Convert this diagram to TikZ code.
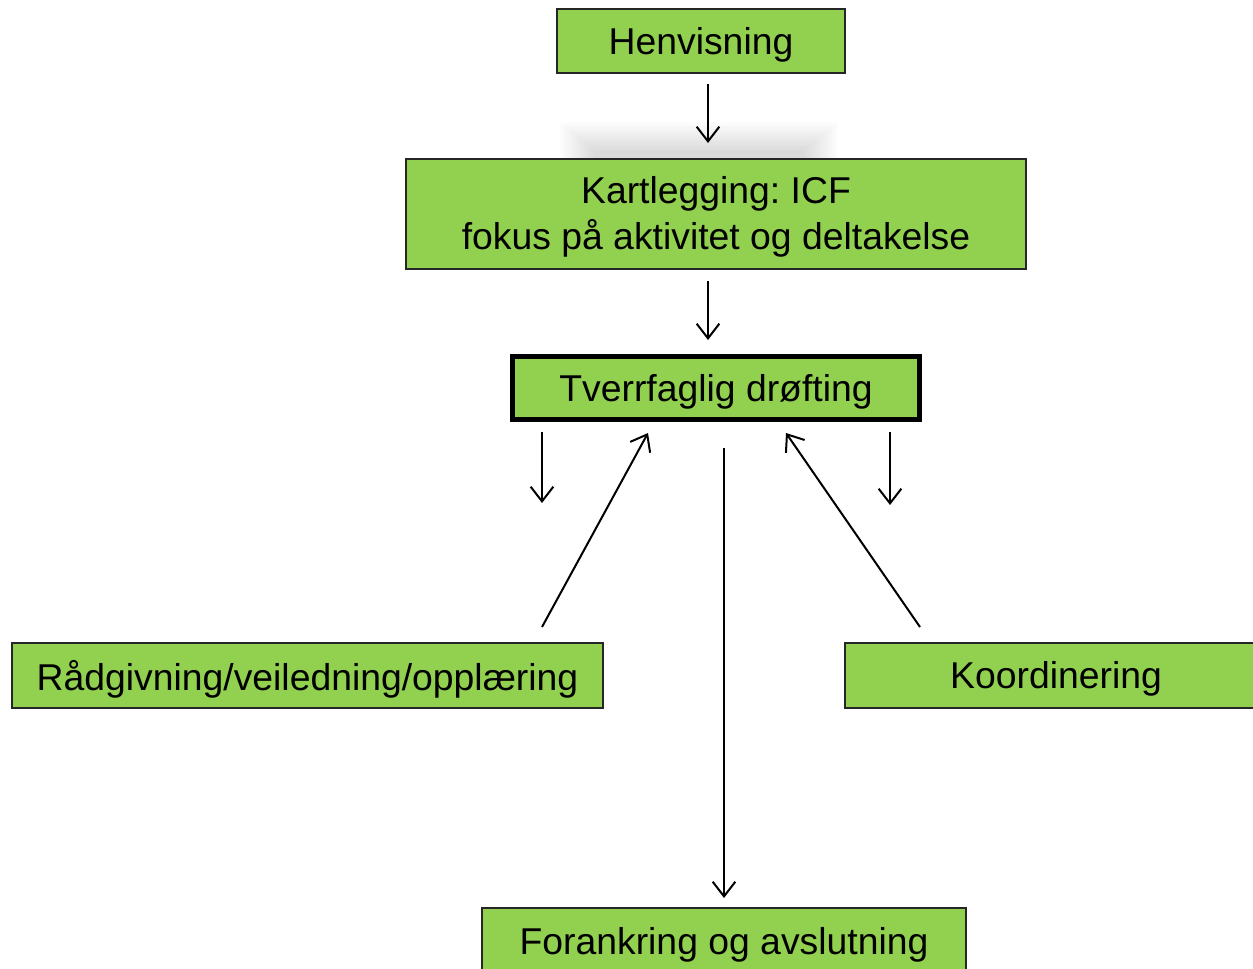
\documentclass[tikz,border=0pt]{standalone}
\usepackage{fontspec}
\setmainfont{Liberation Sans}
\usetikzlibrary{arrows.meta}
\definecolor{boxgreen}{HTML}{92D050}
\newcommand\lowr[1]{\raisebox{-2.6pt}[\height][\depth]{#1}}
\frenchspacing
\begin{document}
\begin{tikzpicture}[x=0.75pt,y=-0.75pt,
  box/.style={draw=black!85, line width=1.1pt, fill=boxgreen, inner sep=0pt,
    font=\fontsize{28}{34}\selectfont, align=center},
  conn/.style={line width=1.5pt, -{Straight Barb[length=11pt,width=17pt,line width=1.5pt]}}]
\clip (0,0) rectangle (1253,968);
\fill[white] (0,0) rectangle (1253,968);
% soft shadow above Kartlegging
\foreach \i in {0,...,11}
  \fill[black,opacity=0.012] (560+\i*3,122+\i*2.5) rectangle (838-\i*3,159);

\node[box, minimum width=216pt, minimum height=48pt] (hen) at (701,41) {\lowr{Henvisning}};
\node[box, minimum width=465pt, minimum height=82.5pt] (kart) at (716,214)
  {\lowr{\begin{tabular}{@{}c@{}}Kartlegging: ICF\\fokus på aktivitet og deltakelse\end{tabular}}};
\node[box, line width=3.5pt, draw=black, minimum width=305pt, minimum height=47pt] (tver) at (716,388) {\lowr{Tverrfaglig drøfting}};
\node[box, minimum width=443pt, minimum height=48.75pt] (rad) at (307.5,675.5) {\lowr{Rådgivning/veiledning/opplæring}};
\node[box, minimum width=316.5pt, minimum height=48.75pt] (koord) at (1056,675.5) {\lowr{Koordinering}};
\node[box, minimum width=363pt, minimum height=49.5pt] (fora) at (724,941) {\lowr{Forankring og avslutning}};

\coordinate (a1s) at (708,84);  \coordinate (a1e) at (708,143);
\coordinate (a2s) at (708,281); \coordinate (a2e) at (708,340);
\coordinate (a3s) at (542,432); \coordinate (a3e) at (542,503);
\coordinate (a4s) at (542,627); \coordinate (a4e) at (648,433);
\coordinate (a5s) at (724,448); \coordinate (a5e) at (724,898);
\coordinate (a6s) at (920,627); \coordinate (a6e) at (786,433);
\coordinate (a7s) at (890,432); \coordinate (a7e) at (890,505);

\draw[conn] (a1s) -- (a1e);
\draw[conn] (a2s) -- (a2e);
\draw[conn] (a3s) -- (a3e);
\draw[conn] (a4s) -- (a4e);
\draw[conn] (a5s) -- (a5e);
\draw[conn] (a6s) -- (a6e);
\draw[conn] (a7s) -- (a7e);
\end{tikzpicture}
\end{document}
